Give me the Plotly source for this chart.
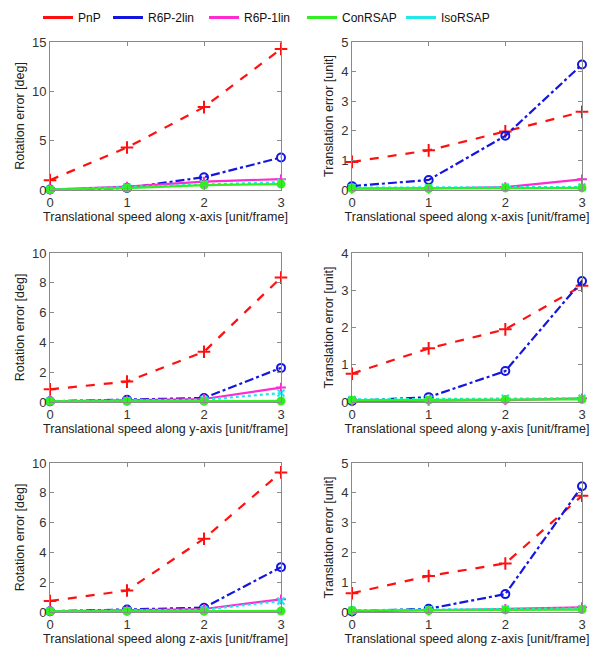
import plotly.graph_objects as go

speeds = [0, 1, 2, 3]
methods = ["PnP", "R6P-2lin", "R6P-1lin", "ConRSAP", "IsoRSAP"]

# Rotation error [deg], translational speed along x / y / z axis
rot_x = {
    "PnP":      [1.0, 4.3, 8.4, 14.3],
    "R6P-2lin": [0.05, 0.2, 1.3, 3.3],
    "R6P-1lin": [0.05, 0.35, 0.85, 1.1],
    "ConRSAP":  [0.05, 0.2, 0.5, 0.6],
    "IsoRSAP":  [0.05, 0.3, 0.6, 0.8],
}
rot_y = {
    "PnP":      [0.85, 1.37, 3.37, 8.35],
    "R6P-2lin": [0.05, 0.15, 0.27, 2.29],
    "R6P-1lin": [0.05, 0.1, 0.2, 0.97],
    "ConRSAP":  [0.05, 0.05, 0.05, 0.07],
    "IsoRSAP":  [0.05, 0.08, 0.15, 0.6],
}
rot_z = {
    "PnP":      [0.74, 1.44, 4.92, 9.37],
    "R6P-2lin": [0.05, 0.16, 0.29, 3.01],
    "R6P-1lin": [0.05, 0.1, 0.2, 0.85],
    "ConRSAP":  [0.05, 0.05, 0.05, 0.07],
    "IsoRSAP":  [0.05, 0.08, 0.15, 0.74],
}
# Translation error [unit]
tr_x = {
    "PnP":      [0.95, 1.34, 1.98, 2.64],
    "R6P-2lin": [0.13, 0.34, 1.83, 4.24],
    "R6P-1lin": [0.05, 0.05, 0.1, 0.36],
    "ConRSAP":  [0.05, 0.05, 0.07, 0.07],
    "IsoRSAP":  [0.08, 0.08, 0.1, 0.1],
}
tr_y = {
    "PnP":      [0.76, 1.44, 1.95, 3.12],
    "R6P-2lin": [0.03, 0.13, 0.83, 3.25],
    "R6P-1lin": [0.02, 0.03, 0.05, 0.1],
    "ConRSAP":  [0.05, 0.05, 0.06, 0.07],
    "IsoRSAP":  [0.07, 0.08, 0.1, 0.1],
}
tr_z = {
    "PnP":      [0.63, 1.21, 1.63, 3.9],
    "R6P-2lin": [0.02, 0.11, 0.6, 4.22],
    "R6P-1lin": [0.02, 0.05, 0.1, 0.16],
    "ConRSAP":  [0.05, 0.05, 0.07, 0.08],
    "IsoRSAP":  [0.06, 0.08, 0.1, 0.12],
}

panels = [
    (rot_x, "Rotation error [deg]", "Translational speed along x-axis [unit/frame]", [0, 15], [0, 5, 10, 15]),
    (tr_x, "Translation error [unit]", "Translational speed along x-axis [unit/frame]", [0, 5], [0, 1, 2, 3, 4, 5]),
    (rot_y, "Rotation error [deg]", "Translational speed along y-axis [unit/frame]", [0, 10], [0, 2, 4, 6, 8, 10]),
    (tr_y, "Translation error [unit]", "Translational speed along y-axis [unit/frame]", [0, 4], [0, 1, 2, 3, 4]),
    (rot_z, "Rotation error [deg]", "Translational speed along z-axis [unit/frame]", [0, 10], [0, 2, 4, 6, 8, 10]),
    (tr_z, "Translation error [unit]", "Translational speed along z-axis [unit/frame]", [0, 5], [0, 1, 2, 3, 4, 5]),
]

OFF = 8  # default page body margin
W, H = 612 - 2 * OFF, 657 - 2 * OFF


def dx(a, b):
    return [(a - OFF) / W, (b - OFF) / W]


def dy(top, bottom):
    return [1 - (bottom - OFF) / H, 1 - (top - OFF) / H]


xdoms = [dx(50, 281), dx(352, 582)]
ydoms = [dy(42, 190), dy(253, 402), dy(463, 612)]

colors = {
    "PnP": "#ff1010",
    "R6P-2lin": "#1515e0",
    "R6P-1lin": "#ff2ad0",
    "ConRSAP": "#33ee22",
    "IsoRSAP": "#22e8e8",
}
dashes = {"PnP": "dash", "R6P-2lin": "dashdot", "R6P-1lin": "solid", "ConRSAP": "solid", "IsoRSAP": "dot"}
symbols = {"PnP": "cross-thin-open", "R6P-2lin": "circle-open", "R6P-1lin": "cross-thin-open",
           "ConRSAP": "circle", "IsoRSAP": "x-thin-open"}
sizes = {"PnP": 9, "R6P-2lin": 8, "R6P-1lin": 7, "ConRSAP": 7, "IsoRSAP": 7}
order = ["PnP", "R6P-2lin", "R6P-1lin", "IsoRSAP", "ConRSAP"]

FONT = "Liberation Sans, Arial, sans-serif"
fig = go.Figure()
layout = {}
for i, (data, ytitle, xtitle, yr, yt) in enumerate(panels):
    row, col = divmod(i, 2)
    idx = "" if i == 0 else str(i + 1)
    xa, ya = "x" + idx, "y" + idx
    for m in order:
        fig.add_trace(go.Scatter(
            x=speeds, y=data[m], xaxis=xa, yaxis=ya, mode="lines+markers",
            line=dict(color=colors[m], width=2.2, dash=dashes[m]),
            marker=dict(symbol=symbols[m], size=sizes[m], color=colors[m],
                        line=dict(color=colors[m], width=2)),
            cliponaxis=False, showlegend=False, name=m,
        ))
    axcommon = dict(showline=True, linecolor="#8a8a8a", linewidth=1, mirror="ticks",
                    ticks="inside", ticklen=4, tickcolor="#8a8a8a", showgrid=False,
                    zeroline=False, automargin=False,
                    tickfont=dict(family=FONT, size=13, color="#333333"))
    layout["xaxis" + idx] = dict(domain=xdoms[col], range=[0, 3], tickvals=[0, 1, 2, 3],
                                 anchor=ya, title=dict(text=xtitle, standoff=0,
                                 font=dict(family=FONT, size=12.5, color="#222222")), **axcommon)
    layout["yaxis" + idx] = dict(domain=ydoms[row], range=yr, tickvals=yt, anchor=xa,
                                 title=dict(text=ytitle, standoff=4,
                                 font=dict(family=FONT, size=12.5, color="#222222")), **axcommon)

# legend entries, each in its own legend box placed along the top (text start px)
legend_text_starts = [78, 148, 244, 342, 441]
for k, m in enumerate(methods):
    lname = "legend" if k == 0 else "legend%d" % (k + 1)
    fig.add_trace(go.Scatter(x=[None], y=[None], mode="lines", name=m, legend=lname,
                             line=dict(color=colors[m], width=3), showlegend=True))
    layout[lname] = dict(orientation="h", x=(legend_text_starts[k] - 40 - OFF) / W, xanchor="left",
                         y=1 - (3 - OFF) / H, yanchor="top",
                         font=dict(family=FONT, size=12, color="#111111"),
                         itemwidth=30, bgcolor="rgba(0,0,0,0)")

fig.update_layout(
    width=W, height=H, margin=dict(l=0, r=0, t=0, b=0, autoexpand=False),
    plot_bgcolor="white", paper_bgcolor="white",
    **layout,
)
fig.write_html("out.html")
